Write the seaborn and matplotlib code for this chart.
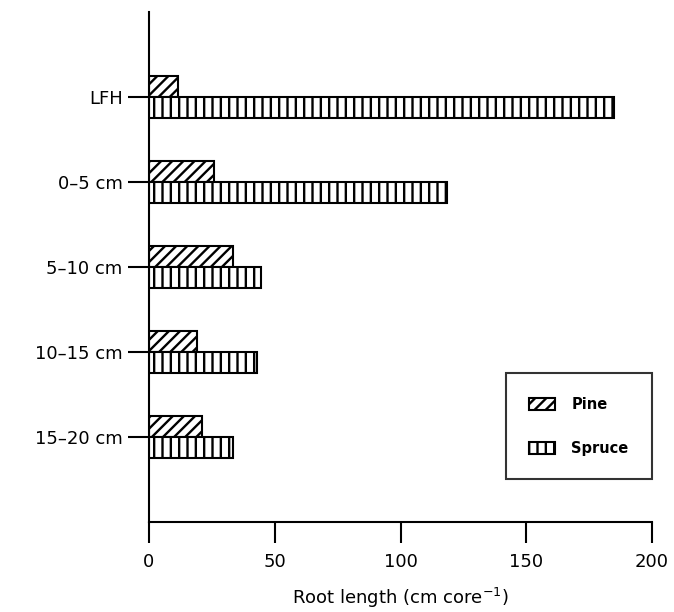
import matplotlib
matplotlib.use("Agg")
import matplotlib.pyplot as plt
import seaborn as sns
import pandas as pd

depths = ["LFH", "0–5 cm", "5–10 cm", "10–15 cm", "15–20 cm"]
pine = [11.5, 26, 33.5, 19, 21]
spruce = [185, 118.5, 44.5, 43, 33.5]
species = ["Pine", "Spruce"]
hatches = ["///", "||"]
xticks = [0, 50, 100, 150, 200]

df = pd.DataFrame({
    "depth": depths * 2,
    "length": pine + spruce,
    "species": [species[0]] * len(depths) + [species[1]] * len(depths),
})

sns.set_style("white")
plt.rcParams["font.family"] = ["DejaVu Sans"]
plt.rcParams["hatch.linewidth"] = 1.7
plt.rcParams["hatch.color"] = "black"
plt.rcParams["text.color"] = "black"
plt.rcParams["axes.labelcolor"] = "black"

fig = plt.figure(figsize=(6.74, 6.12), dpi=100)
ax = fig.add_axes([149 / 674, 90 / 612, (652 - 149) / 674, (522 - 12) / 612])

sns.barplot(data=df, y="depth", x="length", hue="species", order=depths,
            hue_order=species, orient="h", width=0.5, dodge=True,
            palette=["white", "white"], edgecolor="black", linewidth=1.5,
            saturation=1, ax=ax, legend=False)

for cont, h in zip(ax.containers, hatches):
    for p in cont:
        p.set_hatch(h)
        p.set_edgecolor("black")
        p.set_facecolor("white")

ax.set_xlim(0, 200)
ax.set_ylim(5, -1)
ax.set_xticks(xticks)
ax.set_xticklabels([str(t) for t in xticks])
ax.set_yticks(range(len(depths)))
ax.set_yticklabels(depths)

for s in ["top", "right"]:
    ax.spines[s].set_visible(False)
for s in ["left", "bottom"]:
    ax.spines[s].set_linewidth(1.5)
    ax.spines[s].set_color("black")

ax.tick_params(axis="both", which="major", direction="out", length=15,
               width=1.5, color="black", labelsize=13, labelcolor="black",
               bottom=True, left=True)
ax.tick_params(axis="x", pad=7)
ax.tick_params(axis="y", pad=4)

ax.set_ylabel("")
ax.set_xlabel("Root length (cm core$^{-1}$)", fontsize=13, labelpad=11, color="black")

leg = ax.legend(handles=[ax.containers[0], ax.containers[1]], labels=species,
                loc="lower right", bbox_to_anchor=(1.0, 0.084),
                frameon=True, fancybox=False, fontsize=10.5,
                borderpad=1.6, labelspacing=2.0, handlelength=1.8,
                handleheight=0.9, handletextpad=1.1, borderaxespad=0)
leg.get_frame().set_edgecolor("black")
leg.get_frame().set_linewidth(1.5)
for t in leg.get_texts():
    t.set_fontweight("bold")
    t.set_color("black")

fig.savefig("out.png", dpi=100)
